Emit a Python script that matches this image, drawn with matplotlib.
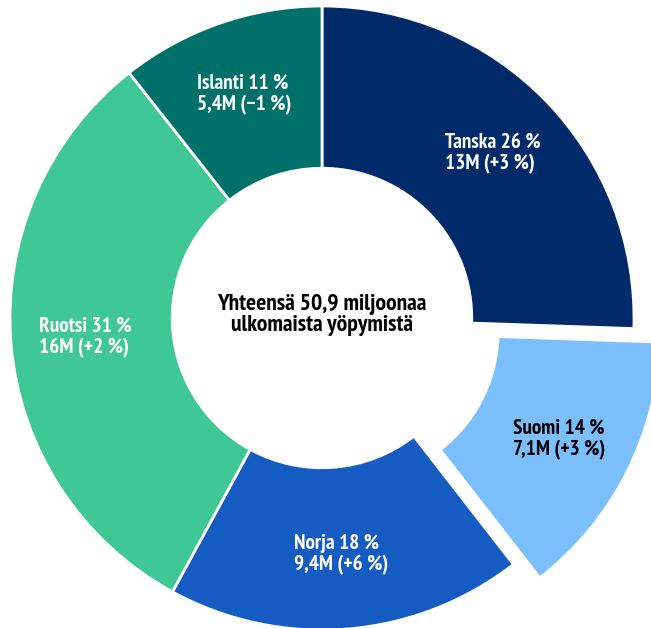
import numpy as np
import matplotlib.pyplot as plt
from matplotlib import font_manager

maat = ["Tanska", "Suomi", "Norja", "Ruotsi", "Islanti"]
yopymiset_milj = [13, 7.1, 9.4, 16, 5.4]
osuus = [26, 14, 18, 31, 11]
yopymiset = ["13M", "7,1M", "9,4M", "16M", "5,4M"]
muutos = ["+3 %", "+3 %", "+6 %", "+2 %", "\u22121 %"]
varit = ["#002a6a", "#7bbfff", "#145bc2", "#3fc896", "#00706b"]
tekstivarit = ["white", "black", "white", "white", "white"]
irrotus = [0, 0.095, 0, 0, 0]

# pick a bold condensed font that is actually installed
ehdokkaat = ["PT Sans Narrow", "Fira Sans Condensed", "Roboto Condensed",
             "Open Sans Condensed", "IBM Plex Sans Condensed", "Asap Condensed",
             "Sofia Sans Condensed", "Archivo Narrow"]
asennetut = {}
for f in font_manager.fontManager.ttflist:
    asennetut.setdefault(f.name, set()).add(f.weight)
fontti = "DejaVu Sans"
for e in ehdokkaat:
    if e in asennetut and max(int(w) if str(w).isdigit() else 400 for w in asennetut[e]) >= 600:
        fontti = e
        break
plt.rcParams["font.family"] = [fontti, "DejaVu Sans"]

fig = plt.figure(figsize=(6.51, 6.28), dpi=100)
ax = fig.add_axes([0, 0, 1, 1])

wedges, _ = ax.pie(yopymiset_milj, colors=varit, startangle=90, counterclock=False,
                   explode=irrotus, radius=1.0,
                   wedgeprops=dict(width=0.52, edgecolor="white", linewidth=2))

for w, maa, o, y, m, tc, e in zip(wedges, maat, osuus, yopymiset, muutos, tekstivarit, irrotus):
    ang = np.deg2rad((w.theta1 + w.theta2) / 2)
    r = 0.76 + e
    ax.text(r * np.cos(ang), r * np.sin(ang), f"{maa} {o} %\n{y} ({m})",
            ha="center", va="center", multialignment="left",
            color=tc, fontsize=15.3, fontweight="bold", linespacing=1.15)

ax.text(0, 0.01, "Yhteensä 50,9 miljoonaa\nulkomaista yöpymistä",
        ha="center", va="center", fontsize=17, fontweight="heavy",
        color="black", linespacing=1.0)

ax.set_xlim(-322 / 312, 329 / 312)
ax.set_ylim(-310 / 312, 318 / 312)
ax.set_aspect("auto")
ax.axis("off")

fig.savefig("out.png", dpi=100)
